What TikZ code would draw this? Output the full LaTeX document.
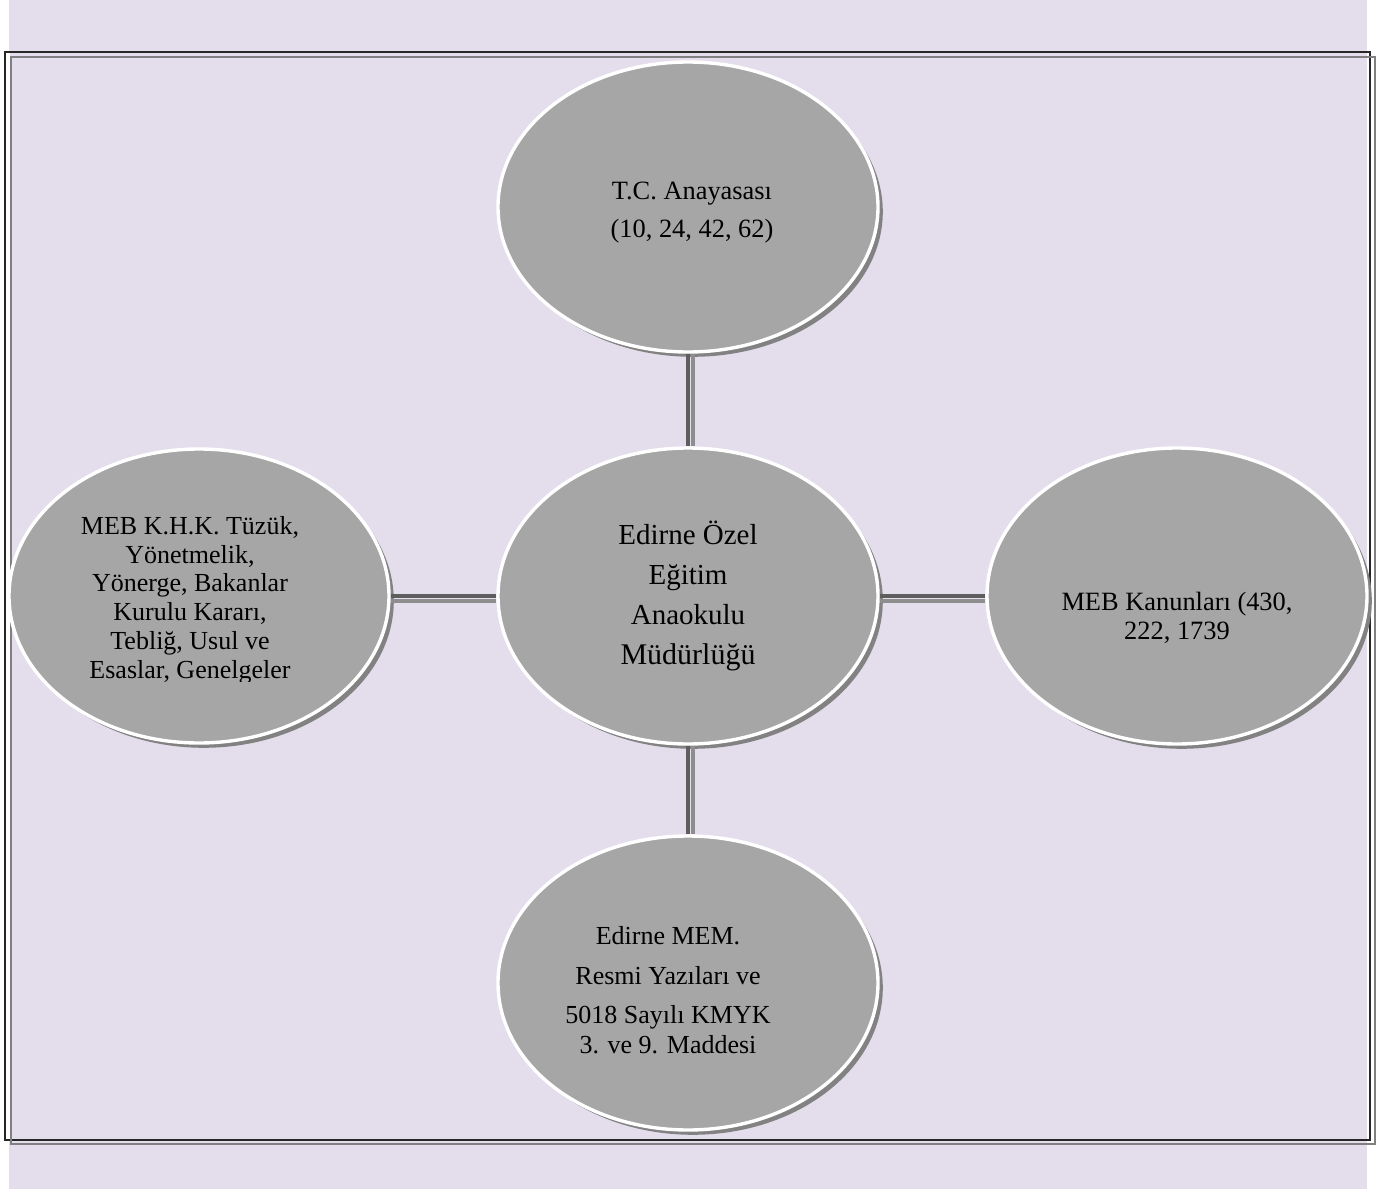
\documentclass[tikz,border=0pt]{standalone}
\usepackage{fontspec}
\setmainfont{Liberation Serif}
\usetikzlibrary{shapes.geometric,shadows}
\definecolor{bgcol}{HTML}{E4DEEC}
\definecolor{ellfill}{HTML}{A6A6A6}
\definecolor{shadowcol}{HTML}{828282}
\definecolor{conndark}{HTML}{5E5E5E}
\definecolor{connlight}{HTML}{8E8E8E}
\tikzset{
  bubble/.style={ellipse, draw=white, line width=1.7pt, fill=ellfill, inner sep=0pt,
    drop shadow={shadow xshift=2.4pt, shadow yshift=-2.4pt, fill=shadowcol, opacity=1}},
  txt/.style={align=center, text=black, inner sep=0pt},
  conn/.style={draw=conndark, line width=2.2pt},
  connsh/.style={draw=connlight, line width=2pt},
}
\begin{document}
\begin{tikzpicture}[x=0.5pt,y=-0.5pt]
\useasboundingbox (0,0) rectangle (1389,1189);
% background
\fill[bgcol] (9,0) rectangle (1367,1189);
\fill[white] (6,53) rectangle (10,1140);
% frames
\draw[draw=black!85, line width=1pt] (5,52) rectangle (1370,1140);
\draw[draw=black!50, line width=1.1pt] (11,57) rectangle (1375,1144);
% ellipses
\node[bubble, minimum width=190pt, minimum height=145pt] (top) at (688,207) {};
\node[bubble, minimum width=190pt, minimum height=148pt] (mid) at (688,596) {};
\node[bubble, minimum width=190pt, minimum height=147pt] (left) at (199,596) {};
\node[bubble, minimum width=190pt, minimum height=148pt] (right) at (1177,596) {};
\node[bubble, minimum width=190pt, minimum height=147pt] (bottom) at (688,983) {};
% connectors
\draw[connsh, transform canvas={xshift=2.6pt}] (top) -- (mid);
\draw[conn] (top) -- (mid);
\draw[connsh, transform canvas={xshift=2.6pt}] (mid) -- (bottom);
\draw[conn] (mid) -- (bottom);
\draw[connsh, transform canvas={yshift=-2.6pt}] (left) -- (mid);
\draw[conn] (left) -- (mid);
\draw[connsh, transform canvas={yshift=-2.6pt}] (mid) -- (right);
\draw[conn] (mid) -- (right);
% texts
\node[txt, font=\fontsize{13.2pt}{19pt}\selectfont] (ttop) at (692,213) {T.C. Anayasası\\(10, 24, 42, 62)};
\node[txt, font=\fontsize{14.5pt}{20pt}\selectfont] (tmid) at (688,596) {Edirne Özel\\Eğitim\\Anaokulu\\{\fontsize{15pt}{20pt}\selectfont Müdürlüğü}};
\node[txt, font=\fontsize{13.2pt}{14.5pt}\selectfont] (tright) at (1177,618) {MEB Kanunları (430,\\222, 1739};
\begin{scope}
\clip (0,0) rectangle (1389,681);
\node[txt, font=\fontsize{13pt}{14.4pt}\selectfont] (tleft) at (190,600) {MEB K.H.K. Tüzük,\\Yönetmelik,\\Yönerge, Bakanlar\\Kurulu Kararı,\\Tebliğ, Usul ve\\Esaslar, Genelgeler};
\end{scope}
\node[txt, font=\fontsize{13pt}{15pt}\selectfont] (tbottom) at (668,990) {Edirne MEM.\\[5pt]Resmi Yazıları ve\\[4.5pt]5018 Sayılı KMYK\\3. ve 9. Maddesi};
\end{tikzpicture}
\end{document}
